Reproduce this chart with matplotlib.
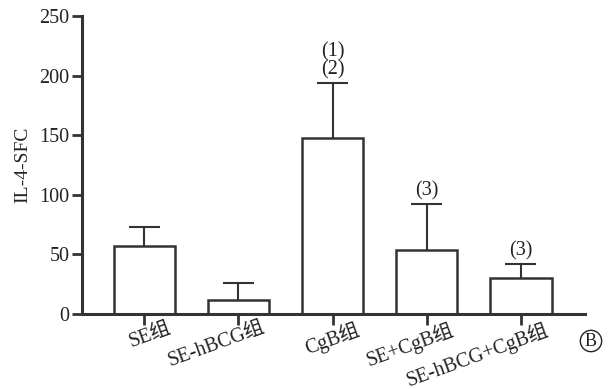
import matplotlib
matplotlib.use("Agg")
import matplotlib.pyplot as plt
import matplotlib.transforms as mtransforms

plt.rcParams['font.family'] = ['Liberation Serif', 'Noto Sans CJK SC', 'DejaVu Sans']

grupos = ["SE组", "SE-hBCG组", "CgB组", "SE+CgB组", "SE-hBCG+CgB组"]
medias = [57, 12, 148, 54, 30]
erros = [16, 14, 46, 38, 12]
marcas = ["", "", "(1)\n(2)", "(3)", "(3)"]

cor = "#333333"
cor_txt = "#222222"

fig = plt.figure(figsize=(6.13, 3.89), dpi=100)
ax = fig.add_axes([82/613, 75/389, 503/613, 298/389])

x = list(range(len(grupos)))
ax.bar(x, medias, width=0.65, color="white", edgecolor=cor, linewidth=1.8, zorder=2)
ax.errorbar(x, [m + e/2 for m, e in zip(medias, erros)], yerr=[e/2 for e in erros],
            fmt="none", ecolor=cor, elinewidth=1.5, capsize=0, zorder=1)
# tampa da barra de erro
ax.errorbar(x, [m + e for m, e in zip(medias, erros)], xerr=0.165, fmt="none",
            ecolor=cor, elinewidth=1.5, capsize=0, zorder=1)

for xi, m, e, t in zip(x, medias, erros, marcas):
    if t:
        ax.text(xi, m + e + 3, t, ha="center", va="bottom", fontsize=14.5,
                linespacing=0.9, color=cor_txt)

ax.set_xlim(-0.66, 4.68)
ax.set_ylim(0, 250)
ax.set_yticks([0, 50, 100, 150, 200, 250])
ax.set_xticks(x)
ax.set_xticklabels([])

# rotulos inclinados do eixo x
desloc = ax.get_xaxis_transform() + mtransforms.ScaledTranslation(0.23, -0.045, fig.dpi_scale_trans)
for xi, g in zip(x, grupos):
    ax.text(xi, 0, g, transform=desloc, rotation=20, rotation_mode="anchor",
            ha="right", va="top", fontsize=14.5, color=cor_txt, clip_on=False)

ax.tick_params(axis="y", labelsize=14.5, length=7, width=2.0, color=cor, labelcolor=cor_txt, pad=2)
ax.tick_params(axis="x", length=8, width=2.0, color=cor)
ax.set_ylabel("IL-4-SFC", fontsize=14, color=cor_txt, labelpad=6)

for s in ["top", "right"]:
    ax.spines[s].set_visible(False)
for s in ["left", "bottom"]:
    ax.spines[s].set_linewidth(2.2)
    ax.spines[s].set_color(cor)

fig.text(591/613, 1 - 341/389, "B", ha="center", va="center", fontsize=13, color=cor_txt,
         bbox=dict(boxstyle="circle,pad=0.12", fc="none", ec=cor_txt, lw=1.0))

plt.savefig("out.png", dpi=100)
